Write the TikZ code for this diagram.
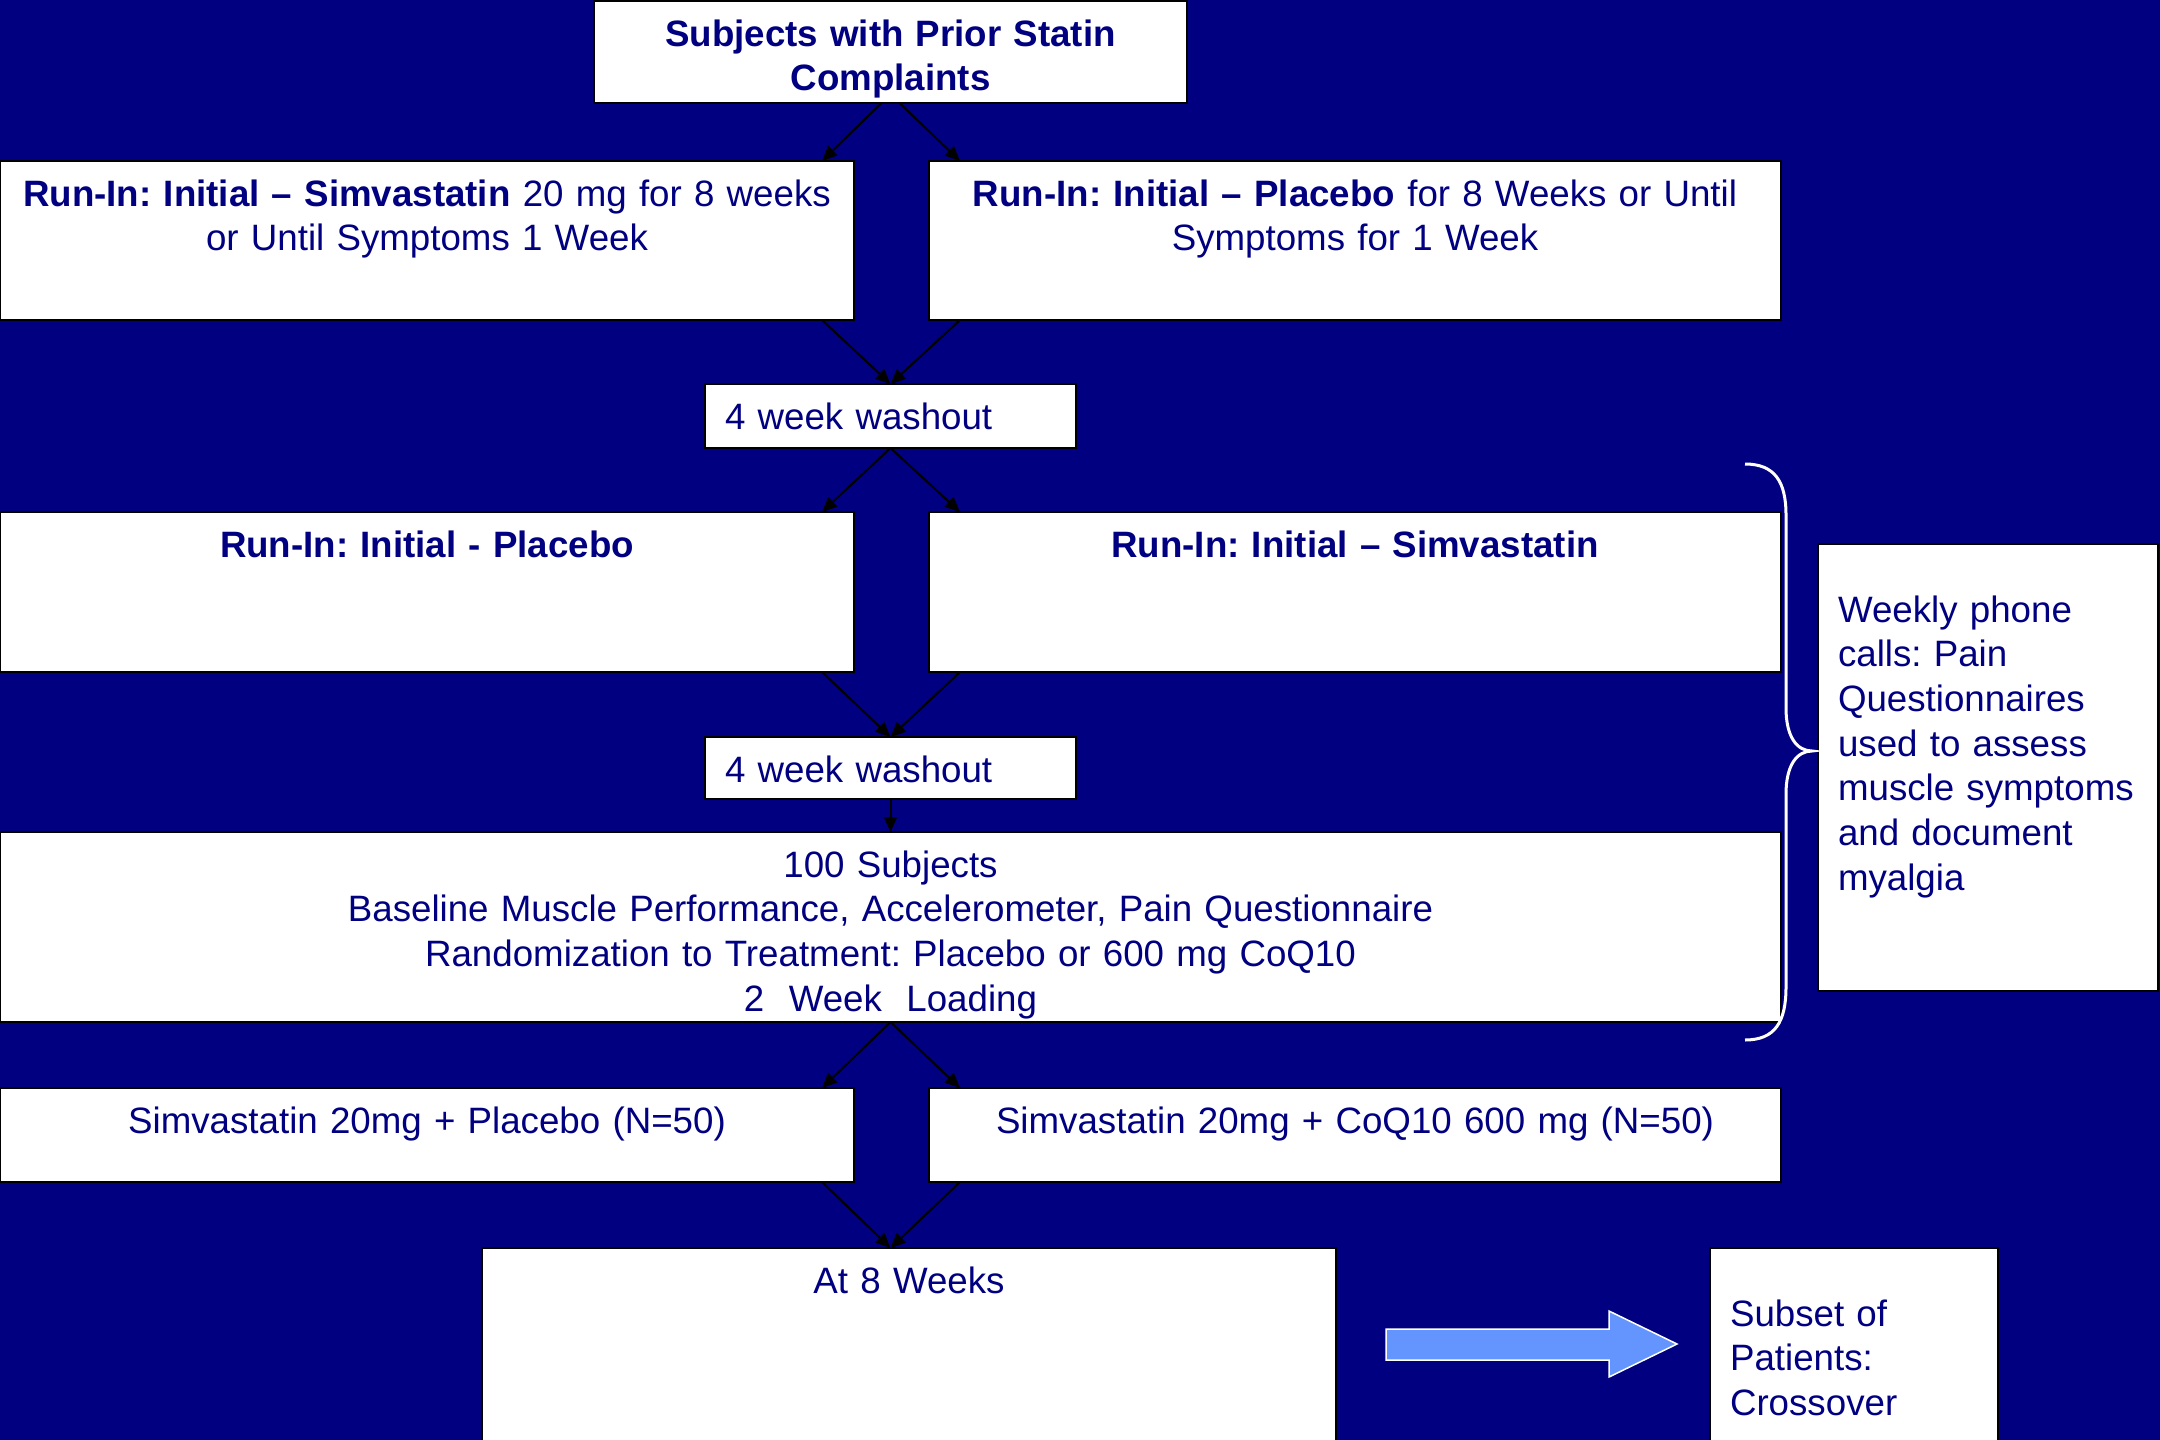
\documentclass[tikz,border=0pt]{standalone}
\usepackage{fontspec}
\setmainfont{Liberation Sans}
\usetikzlibrary{arrows.meta}
\definecolor{bgnavy}{RGB}{0,0,128}
\definecolor{txtnavy}{RGB}{0,0,128}
\definecolor{arrowblue}{RGB}{100,149,255}
\frenchspacing
\begin{document}
\begin{tikzpicture}[x=1pt,y=-1pt,
  box/.style={draw=black, line width=2.2pt, fill=white, inner sep=0pt, outer sep=0pt, anchor=north west},
  txt/.style={text=txtnavy, font=\fontsize{36.7}{44.7}\selectfont\frenchspacing, inner sep=0pt, outer sep=0pt, anchor=base, align=center},
  txtl/.style={txt, align=left, anchor=base west},
  conn/.style={draw=black, line width=2pt, -{Triangle[length=15pt,width=13pt]}}]
\fill[bgnavy] (0,0) rectangle (2160,1440);
\useasboundingbox (0,0) rectangle (2160,1440);

% boxes
\node[box, minimum width=593pt, minimum height=102pt] (top) at (594,1) {};
\node[box, minimum width=854pt, minimum height=159pt] (r1l) at (0,161) {};
\node[box, minimum width=852pt, minimum height=159pt] (r1r) at (929,161) {};
\node[box, minimum width=371pt, minimum height=64pt] (w1) at (705,384) {};
\node[box, minimum width=854pt, minimum height=160pt] (r2l) at (0,512) {};
\node[box, minimum width=852pt, minimum height=160pt] (r2r) at (929,512) {};
\node[box, minimum width=371pt, minimum height=62pt] (w2) at (705,737) {};
\node[box, minimum width=1781pt, minimum height=190pt] (subj) at (0,832) {};
\node[box, minimum width=854pt, minimum height=94pt] (r3l) at (0,1088) {};
\node[box, minimum width=852pt, minimum height=94pt] (r3r) at (929,1088) {};
\node[box, minimum width=854pt, minimum height=200pt] (at8) at (482,1248) {};
\node[box, minimum width=288pt, minimum height=200pt] (subset) at (1710,1248) {};
\node[box, minimum width=340pt, minimum height=447pt] (weekly) at (1818,544) {};

% texts
\node[txt, text width=593pt] (ttop) at (890.5,46) {\bfseries Subjects with Prior Statin\\Complaints};
\node[txt, text width=854pt] (tr1l) at (427,206) {\textbf{Run-In: Initial – Simvastatin} 20 mg for 8 weeks\\or Until Symptoms 1 Week};
\node[txt, text width=852pt] (tr1r) at (1355,206) {\textbf{Run-In: Initial – Placebo} for 8 Weeks or Until\\Symptoms for 1 Week};
\node[txtl, text width=360pt] (tw1) at (725,429) {4 week washout};
\node[txt, text width=854pt] (tr2l) at (427,557) {\bfseries Run-In: Initial - Placebo};
\node[txt, text width=852pt] (tr2r) at (1355,557) {\bfseries Run-In: Initial – Simvastatin};
\node[txtl, text width=360pt] (tw2) at (725,782) {4 week washout};
\node[txt, text width=1781pt] (tsubj) at (890.5,877) {100 Subjects\\Baseline Muscle Performance, Accelerometer, Pain Questionnaire\\Randomization to Treatment: Placebo or 600 mg CoQ10\\2\ \ Week\ \ Loading};
\node[txt, text width=854pt] (tr3l) at (427,1133) {Simvastatin 20mg + Placebo (N=50)};
\node[txt, text width=852pt] (tr3r) at (1355,1133) {Simvastatin 20mg + CoQ10 600 mg (N=50)};
\node[txt, text width=854pt] (tat8) at (909,1293) {At 8 Weeks};
\node[txtl, text width=270pt] (tsubset) at (1730,1326) {Subset of\\Patients:\\Crossover};
\node[txtl, text width=320pt] (tweekly) at (1838,622) {Weekly phone\\calls: Pain\\Questionnaires\\used to assess\\muscle symptoms\\and document\\myalgia};

% connectors
\draw[conn] ([xshift=-9pt]top.south) -- ([xshift=-32pt]r1l.north east);
\draw[conn] ([xshift=9pt]top.south) -- ([xshift=31pt]r1r.north west);
\draw[conn] ([xshift=-32pt]r1l.south east) -- (w1.north);
\draw[conn] ([xshift=31pt]r1r.south west) -- (w1.north);
\draw[conn] (w1.south) -- ([xshift=-32pt]r2l.north east);
\draw[conn] (w1.south) -- ([xshift=31pt]r2r.north west);
\draw[conn] ([xshift=-32pt]r2l.south east) -- (w2.north);
\draw[conn] ([xshift=31pt]r2r.south west) -- (w2.north);
\draw[conn] (w2.south) -- (w2.south |- subj.north);
\draw[conn] (subj.south) -- ([xshift=-32pt]r3l.north east);
\draw[conn] (subj.south) -- ([xshift=31pt]r3r.north west);
\coordinate (at8in) at (subj.south |- at8.north);
\draw[conn] ([xshift=-32pt]r3l.south east) -- (at8in);
\draw[conn] ([xshift=31pt]r3r.south west) -- (at8in);

% brace
\draw[white, line width=3pt] (1745,464) .. controls (1775,464) and (1786,482) .. (1786,515)
  -- (1786,708) .. controls (1786,737) and (1797,751) .. (1812,751)
  .. controls (1797,751) and (1786,765) .. (1786,794)
  -- (1786,987) .. controls (1786,1022) and (1775,1040) .. (1745,1040);

% block arrow
\draw[white, line width=1.5pt, fill=arrowblue] (1386,1329) -- (1609,1329) -- (1609,1311) -- (1677,1344)
  -- (1609,1377) -- (1609,1360) -- (1386,1360) -- cycle;
\end{tikzpicture}
\end{document}
